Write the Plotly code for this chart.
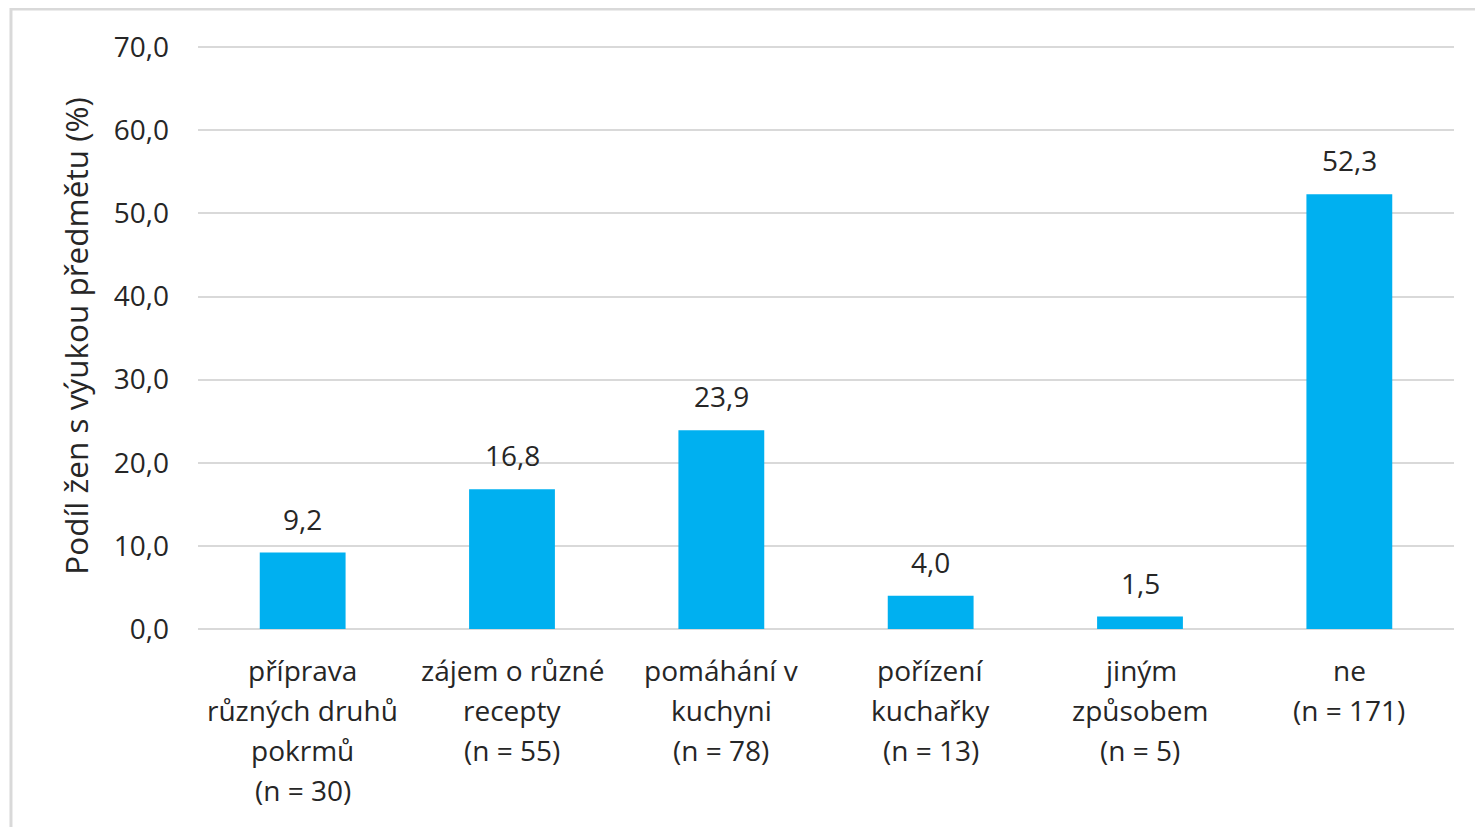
import plotly.graph_objects as go

# Data
categories = ["priprava", "zajem", "pomahani", "porizeni", "jinym", "ne"]
label_lines = [
    ["příprava", "různých druhů", "pokrmů", "(n = 30)"],
    ["zájem o různé", "recepty", "(n = 55)"],
    ["pomáhání v", "kuchyni", "(n = 78)"],
    ["pořízení", "kuchařky", "(n = 13)"],
    ["jiným", "způsobem", "(n = 5)"],
    ["ne", "(n = 171)"],
]
values = [9.2, 16.8, 23.9, 4.0, 1.5, 52.3]
y_ticks = [0, 10, 20, 30, 40, 50, 60, 70]

font_family = "Open Sans, Noto Sans, sans-serif"
text_color = "#262626"
fsize = 28

fig = go.Figure(go.Bar(
    x=categories,
    y=values,
    marker=dict(color="#00B0F0", line=dict(width=0)),
))

annotations = []
# Value labels above the bars
for cat, v in zip(categories, values):
    annotations.append(dict(
        x=cat, y=v, xref="x", yref="y",
        text=f"{v:.1f}".replace(".", ","), showarrow=False,
        yanchor="middle", yshift=34,
        font=dict(size=fsize, color=text_color, family=font_family),
    ))

# Category labels, one annotation per line to match the line spacing
for cat, lines in zip(categories, label_lines):
    for i, line in enumerate(lines):
        annotations.append(dict(
            x=cat, y=0, xref="x", yref="paper",
            text=line, showarrow=False,
            yanchor="middle", yshift=-41 - 40 * i,
            font=dict(size=fsize, color=text_color, family=font_family),
        ))

fig.update_layout(
    width=1483, height=827,
    margin=dict(l=190, r=37, t=35, b=206),
    paper_bgcolor="white",
    plot_bgcolor="white",
    bargap=0.59,
    showlegend=False,
    font=dict(family=font_family, size=fsize, color=text_color),
    annotations=annotations,
    shapes=[dict(
        type="rect", xref="paper", yref="paper",
        x0=-0.1489, x1=1.2, y0=-0.5, y1=1.058,
        line=dict(color="#D9D9D9", width=3),
    )],
    xaxis=dict(showticklabels=False, showgrid=False, showline=False, zeroline=False),
    yaxis=dict(
        range=[0, 70.5],
        tickvals=y_ticks,
        ticktext=[f"{t:.1f}".replace(".", ",") for t in y_ticks],
        ticklabelstandoff=28,
        showgrid=True, gridcolor="#D9D9D9", gridwidth=1.5,
        zeroline=True, zerolinecolor="#D9D9D9", zerolinewidth=1.5,
        showline=False,
        title=dict(text="Podíl žen s výukou předmětu (%)", standoff=15,
                   font=dict(size=31.5, color=text_color, family=font_family)),
    ),
)

fig.write_html("out.html")
